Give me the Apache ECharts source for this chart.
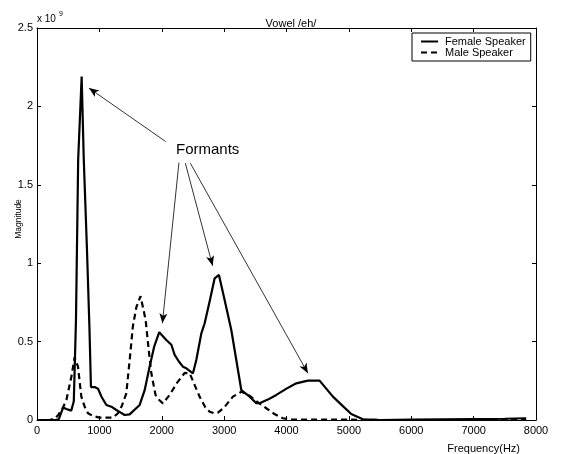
<!DOCTYPE html>
<html>
<head>
<meta charset="utf-8">
<script src="https://cdn.jsdelivr.net/npm/echarts@6/dist/echarts.min.js"></script>
<style>
html,body{margin:0;padding:0;background:#fff;}
#c{width:561px;height:454px;}
</style>
</head>
<body>
<div id="c"></div>
<script>
// Frequency (Hz) and magnitude (x 1e9)
var femaleHz  = [0, 150, 300, 350, 420, 470, 550, 590, 625, 660, 716, 750, 800, 840, 865, 925, 978, 1032, 1112, 1192, 1272, 1330, 1405, 1485, 1646, 1726, 1800, 1880, 1960, 2073, 2154, 2207, 2280, 2340, 2394, 2500, 2554, 2635, 2688, 2770, 2848, 2917, 3008, 3115, 3276, 3409, 3516, 3569, 3700, 3837, 4000, 4157, 4343, 4530, 4744, 4900, 5038, 5224, 5500, 6000, 6500, 7000, 7500, 7843];
var femaleMag = [0, 0, 0, 0.005, 0.08, 0.07, 0.06, 0.12, 0.64, 1.66, 2.19, 1.66, 1.1, 0.6, 0.21, 0.21, 0.2, 0.15, 0.096, 0.085, 0.064, 0.05, 0.032, 0.036, 0.096, 0.19, 0.33, 0.47, 0.56, 0.51, 0.48, 0.415, 0.37, 0.34, 0.33, 0.298, 0.383, 0.553, 0.617, 0.76, 0.904, 0.925, 0.766, 0.574, 0.19, 0.149, 0.107, 0.107, 0.13, 0.16, 0.2, 0.234, 0.251, 0.251, 0.149, 0.09, 0.038, 0.004, 0, 0.002, 0.004, 0.006, 0.008, 0.011];

var maleHz  = [0, 200, 280, 337, 417, 471, 551, 604, 657, 711, 764, 817, 900, 1000, 1218, 1298, 1360, 1432, 1490, 1538, 1593, 1660, 1742, 1790, 1833, 1900, 1960, 2019, 2126, 2250, 2367, 2447, 2520, 2607, 2700, 2768, 2840, 2901, 3000, 3141, 3276, 3370, 3462, 3570, 3676, 3800, 3942, 4100, 4500, 5000, 5500, 6000, 7000, 7843];
var maleMag = [0, 0, 0.008, 0.03, 0.08, 0.128, 0.276, 0.4, 0.34, 0.149, 0.085, 0.043, 0.025, 0.015, 0.015, 0.043, 0.09, 0.17, 0.4, 0.6, 0.72, 0.79, 0.638, 0.45, 0.298, 0.16, 0.128, 0.106, 0.16, 0.24, 0.3, 0.298, 0.23, 0.149, 0.08, 0.053, 0.043, 0.047, 0.08, 0.149, 0.18, 0.165, 0.138, 0.105, 0.075, 0.04, 0.011, 0.003, 0.002, 0.002, 0, 0, 0, 0];

// Annotation arrows: start / end in data coordinates
var arrowStartHz  = [2062, 2276, 2378, 2458];
var arrowStartMag = [1.776, 1.642, 1.638, 1.638];
var arrowEndHz    = [833, 2010, 2816, 4343];
var arrowEndMag   = [2.117, 0.617, 0.983, 0.298];
var annotationText = 'Formants';
var annotationHz = 2736, annotationMag = 1.723;

var xTicks = {min: 0, max: 8000, interval: 1000};
var yTicks = {min: 0, max: 2.5, interval: 0.5};

function pairs(xs, ys){ return xs.map(function(x,i){ return [x, ys[i]]; }); }
var arrows = arrowStartHz.map(function(x,i){
  return [{coord:[x, arrowStartMag[i]]}, {coord:[arrowEndHz[i], arrowEndMag[i]]}];
});

var FONT = '"Liberation Sans", Arial, sans-serif';
var chart = echarts.init(document.getElementById('c'), null, {renderer:'canvas'});
var axisCommon = {
  axisLine:{show:true, onZero:false, lineStyle:{color:'#000', width:1}},
  axisTick:{show:true, inside:true, length:4, lineStyle:{color:'#000'}},
  splitLine:{show:false}
};
function plain(v){ return String(v); }
chart.setOption({
  animation:false,
  backgroundColor:'#fff',
  textStyle:{fontFamily:FONT, color:'#000'},
  title:{text:'Vowel /eh/', left:286, textAlign:'center', top:13,
         textStyle:{fontSize:11, fontWeight:'normal', color:'#000', fontFamily:FONT}},
  grid:{left:37, right:25, top:28, bottom:34, containLabel:false, outerBoundsMode:'none'},
  legend:{
    orient:'vertical', left:412, top:33, itemGap:0, itemWidth:17, itemHeight:11,
    borderColor:'#000', borderWidth:1, padding:[3,5,3,8], backgroundColor:'#fff',
    itemStyle:{opacity:0},
    textStyle:{fontSize:11, color:'#000', fontFamily:FONT, padding:[0,0,0,2]},
    data:['Female Speaker','Male Speaker']
  },
  graphic:[
    {type:'text', left:37, top:14, style:{text:'x 10', fontSize:10, fill:'#000', font:'10px '+FONT}},
    {type:'text', left:59, top:11, style:{text:'9', fontSize:7, fill:'#000', font:'7px '+FONT}}
  ],
  xAxis:[
    Object.assign({type:'value', position:'bottom', min:xTicks.min, max:xTicks.max, interval:xTicks.interval,
      name:'Frequency(Hz)', nameLocation:'end', nameGap:-16, nameMoveOverlap:false,
      nameTextStyle:{fontSize:11, color:'#000', align:'right', verticalAlign:'top', padding:[23,0,0,0], fontFamily:FONT},
      axisLabel:{fontSize:11, color:'#000', margin:5, fontFamily:FONT, formatter:plain}}, axisCommon),
    Object.assign({type:'value', position:'top', min:xTicks.min, max:xTicks.max, interval:xTicks.interval,
      axisLabel:{show:false}}, axisCommon)
  ],
  yAxis:[
    Object.assign({type:'value', position:'left', min:yTicks.min, max:yTicks.max, interval:yTicks.interval,
      name:'Magnitude', nameLocation:'middle', nameGap:14, nameMoveOverlap:false,
      nameTextStyle:{fontSize:8.5, color:'#000', padding:[0,0,0,10], fontFamily:FONT},
      axisLabel:{fontSize:11, color:'#000', margin:4, fontFamily:FONT, formatter:plain}}, axisCommon),
    Object.assign({type:'value', position:'right', min:yTicks.min, max:yTicks.max, interval:yTicks.interval,
      axisLabel:{show:false}}, axisCommon)
  ],
  series:[
    {name:'Female Speaker', type:'line', data:pairs(femaleHz, femaleMag), symbol:'none',
     lineStyle:{color:'#000', width:2.2}, itemStyle:{color:'#000'}, z:3,
     markLine:{silent:true, symbol:['none','arrow'], symbolSize:[6,10], animation:false,
       lineStyle:{color:'#000', width:0.8, type:'solid'}, label:{show:false}, data:arrows},
     markPoint:{silent:true, symbol:'rect', symbolSize:1, itemStyle:{color:'rgba(0,0,0,0)'},
       label:{show:true, position:'inside', formatter:annotationText, fontSize:15, color:'#000', fontFamily:FONT},
       data:[{coord:[annotationHz, annotationMag]}]}
    },
    {name:'Male Speaker', type:'line', data:pairs(maleHz, maleMag), symbol:'none',
     lineStyle:{color:'#000', width:2.2, type:[6,4]}, itemStyle:{color:'#000'}, z:2}
  ]
});
</script>
</body>
</html>
